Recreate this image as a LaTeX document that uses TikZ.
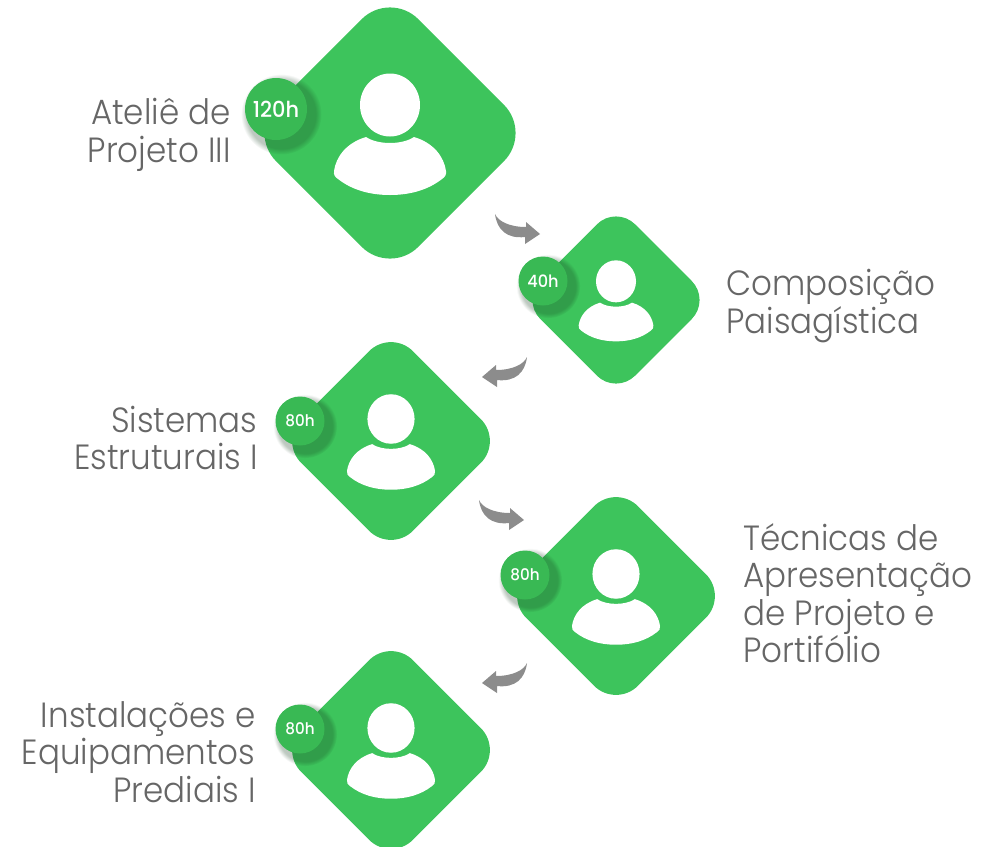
\documentclass[tikz,border=0pt]{standalone}
\usepackage{fontspec}
\setmainfont{Poppins}[UprightFont=* Light,FakeStretch=.93]
\newfontfamily\badgefont{Poppins}[UprightFont=* Medium,FakeStretch=.95]
\usetikzlibrary{shadows}
\definecolor{tilegreen}{HTML}{3DC45C}
\definecolor{badgegreen}{HTML}{39B954}
\definecolor{labelgray}{HTML}{666666}
\definecolor{arrowgray}{HTML}{8C8C8C}
\tikzset{
    tile/.style={fill=tilegreen,rotate=45,inner sep=0pt,rounded corners=#1},
    badge/.style={circle,fill=badgegreen,text=white,inner sep=0pt,circular drop shadow={shadow xshift=4pt,shadow yshift=-4pt,shadow scale=1.3,opacity=.28,fill=black!70!tilegreen}},
    label/.style={text=labelgray,font=\fontsize{35}{37.5}\selectfont,align=#1},
    pics/person/.style={code={
        \fill[white] (0,-28) ellipse (30 and 31.5);
        \fill[white] (-24,4) .. controls (-12,12) and (12,12) .. (24,4)
            .. controls (44,10) and (54,24) .. (56,38)
            .. controls (56.5,42) and (55,44) .. (52,46)
            .. controls (38,57) and (20,62) .. (0,62)
            .. controls (-20,62) and (-38,57) .. (-52,46)
            .. controls (-55,44) and (-56.5,42) .. (-56,38)
            .. controls (-54,24) and (-44,10) .. (-24,4) -- cycle;
    }},
    pics/turn/.style={code={
        \fill[arrowgray] (0,0) .. controls (3,7) and (14,13) .. (31,13) -- (31,8) -- (45,20) -- (30,30)
            -- (30,23) .. controls (12,25) and (2,16) .. (0,0) -- cycle;
    }}
}
\begin{document}
\begin{tikzpicture}[x=1pt,y=-1pt]
    \useasboundingbox (0,0) rectangle (995,846);
    \clip (0,0) rectangle (995,846);
    % tiles
    \node[tile=40pt,minimum size=201pt] (tileA) at (390,133) {};
    \node[tile=27pt,minimum size=134pt] (tileB) at (616,300) {};
    \node[tile=31pt,minimum size=158pt] (tileC) at (391,441) {};
    \node[tile=31pt,minimum size=158pt] (tileD) at (616,596) {};
    \node[tile=31pt,minimum size=158pt] (tileE) at (391,750) {};
    \pic at (tileA) {person};
    \pic[scale=.667] at (tileB) {person};
    \pic[scale=.786] at (tileC) {person};
    \pic[scale=.786] at (tileD) {person};
    \pic[scale=.786] at (tileE) {person};
    % hours
    \node[badge,minimum size=62pt,font=\badgefont\fontsize{22}{22}\selectfont] (hoursA) at (276,109) {120h};
    \node[badge,minimum size=49pt,font=\badgefont\fontsize{17}{17}\selectfont] (hoursB) at (543,281) {40h};
    \node[badge,minimum size=49pt,font=\badgefont\fontsize{16}{16}\selectfont] (hoursC) at (300,421) {80h};
    \node[badge,minimum size=49pt,font=\badgefont\fontsize{16}{16}\selectfont] (hoursD) at (525,575) {80h};
    \node[badge,minimum size=49pt,font=\badgefont\fontsize{16}{16}\selectfont] (hoursE) at (300,729) {80h};
    % names
    \node[label=right,anchor=east] (nameA) at (234,135) {Ateliê de\\Projeto III};
    \node[label=left,anchor=west] (nameB) at (723,306) {Composição\\Paisagística};
    \node[label=right,anchor=east] (nameC) at (261,438) {Sistemas\\Estruturais I};
    \node[label=left,anchor=west] (nameD) at (740,593) {Técnicas de\\Apresentação\\de Projeto e\\Portifólio};
    \node[label=right,anchor=east] (nameE) at (259,752) {Instalações e\\Equipamentos\\Prediais I};
    % arrows
    \coordinate (turnA) at (495,214);
    \coordinate (turnB) at (527,357);
    \coordinate (turnC) at (479,500);
    \coordinate (turnD) at (527,663);
    \pic at (turnA) {turn};
    \pic[xscale=-1] at (turnB) {turn};
    \pic at (turnC) {turn};
    \pic[xscale=-1] at (turnD) {turn};
\end{tikzpicture}
\end{document}
